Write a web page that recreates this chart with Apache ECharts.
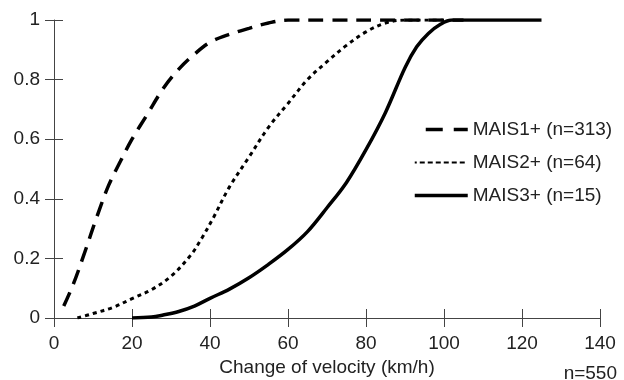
<!DOCTYPE html>
<html>
<head>
<meta charset="utf-8">
<script src="https://cdn.jsdelivr.net/npm/echarts@6/dist/echarts.min.js"></script>
<style>
  html, body { margin: 0; padding: 0; background: #fff; }
  #chart { width: 624px; height: 380px; }
</style>
</head>
<body>
<div id="chart"></div>
<script>
// cumulative share of occupants vs. delta-v
const mais1X = [2.5, 5, 8, 11, 14, 17, 20, 24, 28, 32, 36, 40, 45, 50, 55, 60, 70, 85, 105];
const mais1Y = [0.04, 0.115, 0.225, 0.34, 0.445, 0.525, 0.6, 0.685, 0.77, 0.835, 0.885, 0.925, 0.952, 0.972, 0.99, 1, 1, 1, 1];

const mais2X = [6, 10, 15, 20, 25, 30, 35, 38, 41, 45, 50, 55, 60, 65, 70, 75, 80, 85, 90, 100];
const mais2Y = [0, 0.015, 0.035, 0.065, 0.095, 0.14, 0.21, 0.27, 0.34, 0.44, 0.54, 0.64, 0.72, 0.8, 0.86, 0.915, 0.96, 0.99, 1, 1];

const mais3X = [20, 25, 28, 32, 36, 40, 45, 50, 55, 60, 65, 70, 75, 80, 85, 90, 93, 96, 99, 102, 125];
const mais3Y = [0, 0.003, 0.01, 0.022, 0.04, 0.066, 0.097, 0.135, 0.18, 0.23, 0.29, 0.37, 0.455, 0.565, 0.69, 0.84, 0.91, 0.955, 0.985, 1, 1];

const seriesNames = ['MAIS1+ (n=313)', 'MAIS2+ (n=64)', 'MAIS3+ (n=15)'];
const xTitle = 'Change of velocity (km/h)';
const sampleNote = 'n=550';

const pairs = (xs, ys) => xs.map((x, i) => [x, ys[i]]);

const FONT = '"Liberation Sans", Arial, sans-serif';
const TEXT = '#222';
const AXIS = '#444';

const chart = echarts.init(document.getElementById('chart'));

const xBase = { type: 'value', min: 0, max: 140, interval: 20, position: 'bottom' };
const yBase = { type: 'value', min: 0, max: 1, interval: 0.2, position: 'left' };

chart.setOption({
  animation: false,
  textStyle: { fontFamily: FONT },
  // keep the plot box fixed, v6 would otherwise shrink it to fit the axis name
  grid: { left: 54, right: 24, top: 20, bottom: 62, outerBoundsMode: 'none' },
  title: {
    text: sampleNote,
    right: 7,
    top: 364,
    padding: 0,
    textStyle: { fontSize: 19, fontWeight: 'normal', color: TEXT, fontFamily: FONT },
  },
  legend: {
    orient: 'vertical',
    left: 408,
    top: 115,
    itemWidth: 53,
    itemHeight: 14,
    itemGap: 14,
    // hide the marker dot that line series put in the legend icon
    itemStyle: { opacity: 0 },
    textStyle: { fontSize: 19, color: TEXT, fontFamily: FONT },
    data: [
      { name: seriesNames[0], lineStyle: { width: 3.5, type: [17, 11], dashOffset: 17 } },
      { name: seriesNames[1], lineStyle: { width: 1.8, type: [5, 3], dashOffset: 3 } },
      { name: seriesNames[2], lineStyle: { width: 3.5, type: 'solid' } },
    ],
  },
  xAxis: [
    {
      ...xBase,
      name: xTitle,
      nameLocation: 'middle',
      nameGap: 38,
      nameTextStyle: { fontSize: 19, color: TEXT, fontFamily: FONT },
      axisLine: { onZero: false, lineStyle: { color: AXIS, width: 1 } },
      axisTick: { length: 9, lineStyle: { color: AXIS } },
      axisLabel: { fontSize: 19, color: TEXT, margin: 16, fontFamily: FONT },
      splitLine: { show: false },
    },
    {
      ...xBase,
      axisLine: { show: false, onZero: false },
      axisTick: { inside: true, length: 9, lineStyle: { color: AXIS } },
      axisLabel: { show: false },
      splitLine: { show: false },
    },
  ],
  yAxis: [
    {
      ...yBase,
      axisLine: { show: true, onZero: false, lineStyle: { color: AXIS, width: 1 } },
      axisTick: { show: true, length: 9, lineStyle: { color: AXIS } },
      axisLabel: { fontSize: 19, color: TEXT, margin: 14, fontFamily: FONT },
      splitLine: { show: false },
    },
    {
      ...yBase,
      axisLine: { show: false, onZero: false },
      axisTick: { show: true, inside: true, length: 9, lineStyle: { color: AXIS } },
      axisLabel: { show: false },
      splitLine: { show: false },
    },
  ],
  series: [
    {
      name: seriesNames[0],
      type: 'line',
      smooth: 0.35,
      symbol: 'none',
      data: pairs(mais1X, mais1Y),
      lineStyle: { color: '#000', width: 3.5, type: [15, 9], cap: 'butt' },
      itemStyle: { color: '#000' },
      z: 3,
    },
    {
      name: seriesNames[1],
      type: 'line',
      smooth: 0.35,
      symbol: 'none',
      data: pairs(mais2X, mais2Y),
      lineStyle: { color: '#000', width: 3, type: [4, 4], cap: 'butt' },
      itemStyle: { color: '#000' },
      z: 3,
    },
    {
      name: seriesNames[2],
      type: 'line',
      smooth: 0.35,
      symbol: 'none',
      data: pairs(mais3X, mais3Y),
      lineStyle: { color: '#000', width: 3.5, type: 'solid' },
      itemStyle: { color: '#000' },
      z: 4,
    },
  ],
});
</script>
</body>
</html>
